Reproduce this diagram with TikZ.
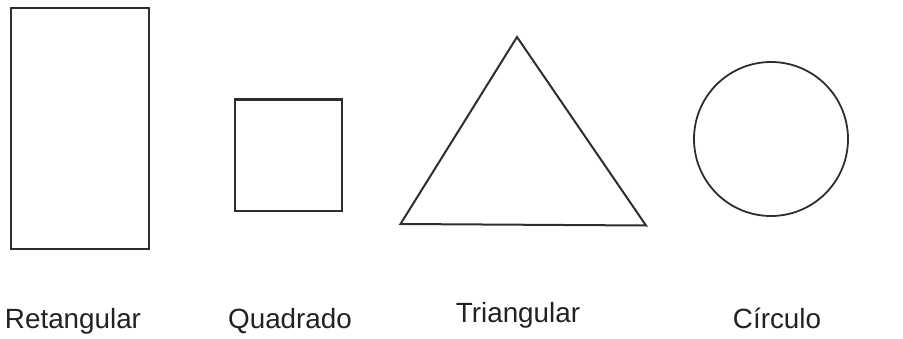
\documentclass[tikz,border=0pt]{standalone}
\usepackage{fontspec}
\setmainfont{Liberation Sans}
\definecolor{shapeline}{HTML}{2E2E2E}
\definecolor{labeltext}{HTML}{222222}
\tikzset{
  shapeedge/.style={draw=shapeline, line width=2pt, line join=miter},
  lbl/.style={anchor=base, inner sep=0pt, text=labeltext, font=\fontsize{27.8pt}{30pt}\selectfont}
}
\begin{document}
\begin{tikzpicture}[x=1pt,y=-1pt]
\useasboundingbox (0,0) rectangle (903,339);
% shapes
\draw[shapeedge] (11,8) rectangle (149,249);
\draw[shapeedge, line width=2.3pt] (235,99.5) rectangle (342,211);
\draw[shapeedge] (517,37) -- (646,225.5) -- (400.5,224) -- cycle;
\draw[shapeedge, line width=1.8pt] (771,139) circle[radius=77];
% labels
\node[lbl] (ret) at (73,328) {Retangular};
\node[lbl] (qua) at (290,328) {Quadrado};
\node[lbl] (tri) at (518,323) {Triangular};
\node[lbl] (cir) at (777,328) {Círculo};
\end{tikzpicture}
\end{document}
